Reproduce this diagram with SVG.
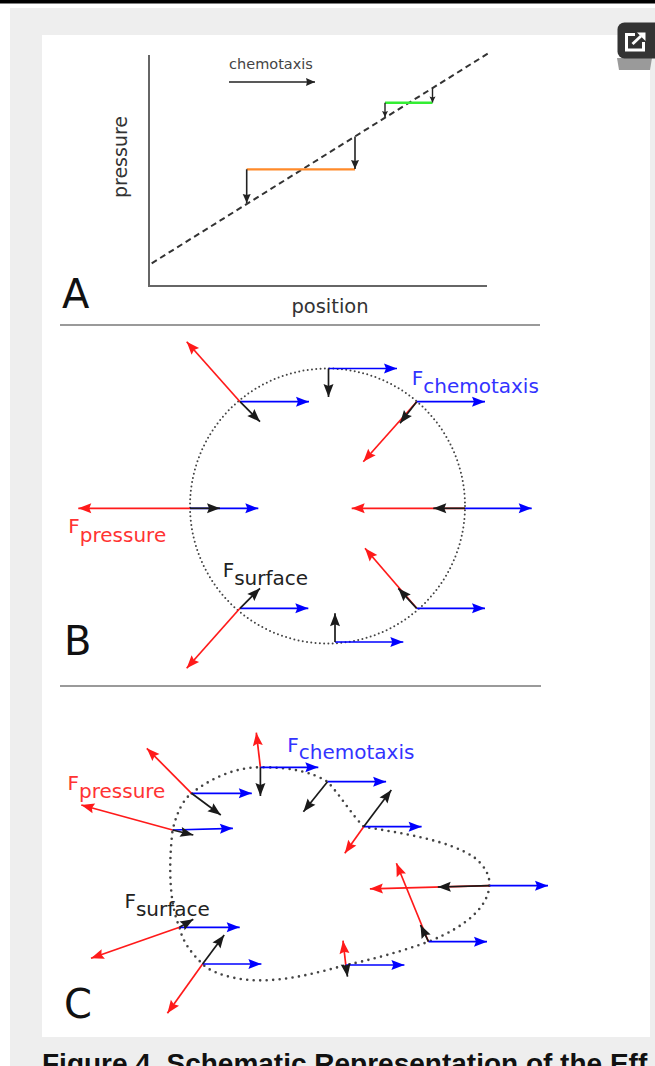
<svg xmlns="http://www.w3.org/2000/svg" width="655" height="1066" viewBox="0 0 655 1066">
<style>
.lab{font-family:"DejaVu Sans","Liberation Sans",sans-serif;}
.r{stroke:#ff1a1a;stroke-width:1.7;fill:none;marker-end:url(#mr);}
.b{stroke:#0000ff;stroke-width:1.7;fill:none;marker-end:url(#mb);}
.k{stroke:#1a1a1a;stroke-width:1.7;fill:none;marker-end:url(#mk);}
.ka{stroke:#222;stroke-width:1.6;fill:none;marker-end:url(#ma);}
.ks{stroke:#222;stroke-width:1.4;fill:none;marker-end:url(#ms);}
.sep{stroke:#9a9a9a;stroke-width:2;}
.dot{fill:none;stroke:#444;stroke-linecap:round;}
</style>
<defs>
<marker id="mr" viewBox="-14 -6 15 12" refX="0" refY="0" markerWidth="15" markerHeight="12" orient="auto" markerUnits="userSpaceOnUse"><path d="M0,0 L-13,-5 L-11,0 L-13,5 Z" fill="#ff1a1a"/></marker>
<marker id="mb" viewBox="-14 -6 15 12" refX="0" refY="0" markerWidth="15" markerHeight="12" orient="auto" markerUnits="userSpaceOnUse"><path d="M0,0 L-13,-5 L-11,0 L-13,5 Z" fill="#0000ff"/></marker>
<marker id="mk" viewBox="-14 -6 15 12" refX="0" refY="0" markerWidth="15" markerHeight="12" orient="auto" markerUnits="userSpaceOnUse"><path d="M0,0 L-13,-5 L-11,0 L-13,5 Z" fill="#1a1a1a"/></marker>
<marker id="ma" viewBox="-10 -5 11 10" refX="0" refY="0" markerWidth="11" markerHeight="10" orient="auto" markerUnits="userSpaceOnUse"><path d="M0,0 L-9,-4 L-8,0 L-9,4 Z" fill="#222"/></marker>
<marker id="ms" viewBox="-7 -4 8 8" refX="0" refY="0" markerWidth="8" markerHeight="8" orient="auto" markerUnits="userSpaceOnUse"><path d="M0,0 L-6,-3 L-5,0 L-6,3 Z" fill="#222"/></marker>
</defs>

<g id="page">
<rect x="0" y="0" width="655" height="1066" fill="#ffffff"/>
<rect x="0" y="0" width="655" height="3.5" fill="#000000"/>
<rect x="10" y="8" width="645" height="1058" fill="#eeeeee"/>
<rect x="42" y="35" width="608" height="1002" fill="#ffffff"/>
</g>

<g id="open-icon">
<path d="M617,58 H652 L650,70 H619 Z" fill="#9a9a9a"/>
<rect x="617.5" y="22.5" width="46" height="36" rx="7" fill="#333333"/>
<path d="M635,34.5 H626.5 V50 H643.5 V42" fill="none" stroke="#ffffff" stroke-width="3"/>
<path d="M632.5,44 L641,36" stroke="#ffffff" stroke-width="3"/>
<path d="M645.5,32.5 L637,32.5 L645.5,41 Z" fill="#ffffff"/>
</g>

<g id="panel-A">
<line x1="149" y1="55" x2="149" y2="286" stroke="#666" stroke-width="2"/>
<line x1="148" y1="286" x2="487" y2="286" stroke="#666" stroke-width="2"/>
<line x1="151.7" y1="263.3" x2="488.3" y2="53.3" stroke="#333" stroke-width="2" stroke-dasharray="6 4"/>
<line x1="246.7" y1="169.3" x2="355" y2="169.3" stroke="#ff8a2a" stroke-width="2.2"/>
<line x1="385" y1="102.7" x2="432.5" y2="102.7" stroke="#33ee33" stroke-width="2.5"/>
<path class="ka" d="M246.7,169.3 V203"/>
<path class="ka" d="M355,136.5 V169"/>
<path class="ks" d="M385,102.7 V117"/>
<path class="ks" d="M432.5,88.5 V102.5"/>
<path class="ka" d="M229,82 H315"/>
<text class="lab" x="271" y="69" font-size="14.5" fill="#444" text-anchor="middle">chemotaxis</text>
<text class="lab" transform="translate(127,157) rotate(-90)" font-size="19" fill="#333" text-anchor="middle">pressure</text>
<text class="lab" x="330" y="312.5" font-size="19.5" fill="#333" text-anchor="middle">position</text>
<text class="lab" x="62" y="308" font-size="40" fill="#111">A</text>
<line class="sep" x1="60" y1="325" x2="540" y2="325"/>
</g>

<g id="panel-B">
<circle class="dot" cx="327.5" cy="506" r="137.5" stroke-width="2" stroke-dasharray="0 4.3"/>
<path class="r" d="M240,401.7 L186.7,341.7"/>
<path class="b" d="M240,401.7 L309,401.7"/>
<path class="k" d="M240,401.7 L260,421.7"/>
<path class="b" d="M328.5,368.5 L397,368.5"/>
<path class="k" d="M328.5,368.5 L328.5,397"/>
<path class="r" d="M416.7,401.7 L363.3,461.7"/>
<path class="b" d="M416.7,401.7 L485,401.7"/>
<path class="k" d="M416.7,401.7 L400,423.3"/>
<path class="r" d="M190,508.3 L78.3,508.3"/>
<path class="b" d="M190,508.3 L258.3,508.3"/>
<path class="k" d="M190,508.3 L220,508.3"/>
<path class="r" d="M465,508.3 L351.7,508.3"/>
<path class="b" d="M465,508.3 L531.7,508.3"/>
<path class="k" d="M465,508.3 L433.3,508.3"/>
<path class="r" d="M416.7,608.3 L365,548.3"/>
<path class="b" d="M416.7,608.3 L485,608.3"/>
<path class="k" d="M416.7,608.3 L398.3,588.3"/>
<path class="b" d="M335,642 L403.3,642"/>
<path class="k" d="M335,642 L335,613.3"/>
<path class="r" d="M240,608.3 L186.7,668.3"/>
<path class="b" d="M240,608.3 L308.3,608.3"/>
<path class="k" d="M240,608.3 L260,588.3"/>
<text class="lab" x="411.7" y="385" font-size="20" fill="#3333ff">F<tspan dy="8.3">chemotaxis</tspan></text>
<text class="lab" x="68.3" y="533.3" font-size="20" fill="#ff3333">F<tspan dy="8.4">pressure</tspan></text>
<text class="lab" x="222.7" y="576.7" font-size="20" fill="#222">F<tspan dy="8.3">surface</tspan></text>
<text class="lab" x="64" y="655" font-size="40" fill="#111">B</text>
<line class="sep" x1="60" y1="686" x2="541" y2="686"/>
</g>

<g id="panel-C">
<path class="dot" stroke-width="2.6" stroke-dasharray="0 6.5" d="M191.5,793.3 C215,775 240,767 260.4,767.3 C290,767 312,772 327.5,781.7 C340,795 352,815 363.7,826.7 C400,833 450,840 475,858 C487,868 490,878 489.4,885.7 C488,905 470,925 428.5,941.7 C400,952 370,960 345.8,965 C310,975 270,985 235,978 C220,975 208,970 202.6,964 C190,952 182,940 179.5,927.3 C170,905 168,870 172.6,830 C177,812 183,800 191.5,793.3 Z"/>
<path class="r" d="M191.5,793.3 L146.8,748.3"/>
<path class="b" d="M191.5,793.3 L251.8,793.3"/>
<path class="k" d="M191.5,793.3 L220.8,815"/>
<path class="r" d="M260.4,767.3 L256.3,732.7"/>
<path class="b" d="M260.4,767.3 L318.3,767.3"/>
<path class="k" d="M260.4,767.3 L260.4,796"/>
<path class="b" d="M327.5,781.7 L386.1,781.7"/>
<path class="k" d="M327.5,781.7 L303.4,811.7"/>
<path class="r" d="M363.7,826.7 L344.8,853.3"/>
<path class="b" d="M363.7,826.7 L421.6,826.7"/>
<path class="k" d="M363.7,826.7 L391.3,790"/>
<path class="r" d="M489.4,885.7 L369.9,888.8"/>
<path class="b" d="M489.4,885.7 L548,885.7"/>
<path class="k" d="M489.4,885.7 L437.8,887"/>
<path class="r" d="M428.5,941.7 L396.4,863.3"/>
<path class="b" d="M428.5,941.7 L487,941.7"/>
<path class="k" d="M428.5,941.7 L420.5,925"/>
<path class="r" d="M345.8,965 L343,940.7"/>
<path class="b" d="M345.8,965 L404.4,965"/>
<path class="k" d="M345.8,965 L347.5,976.7"/>
<path class="r" d="M202.6,964 L167.4,1013.3"/>
<path class="b" d="M202.6,964 L261.4,964"/>
<path class="k" d="M202.6,964 L224.2,935"/>
<path class="r" d="M179.5,927.3 L91,958.3"/>
<path class="b" d="M179.5,927.3 L239.7,927.3"/>
<path class="k" d="M179.5,927.3 L193.3,919.3"/>
<path class="r" d="M172.6,830 L81.3,805"/>
<path class="b" d="M172.6,830 L232.9,828.3"/>
<path class="k" d="M172.6,830 L193.3,835"/>
<text class="lab" x="287.3" y="751.7" font-size="20" fill="#3333ff">F<tspan dy="7.5">chemotaxis</tspan></text>
<text class="lab" x="67.5" y="790" font-size="20" fill="#ff3333">F<tspan dy="8.3">pressure</tspan></text>
<text class="lab" x="124.4" y="908.3" font-size="20" fill="#222">F<tspan dy="7.5">surface</tspan></text>
<text class="lab" x="64" y="1018.3" font-size="40" fill="#111">C</text>
</g>

<g id="caption">
<text x="42" y="1073" font-family="'Liberation Sans',Arial,sans-serif" font-weight="bold" font-size="28" fill="#111">Figure 4. Schematic Representation of the Eff</text>
</g>
</svg>
